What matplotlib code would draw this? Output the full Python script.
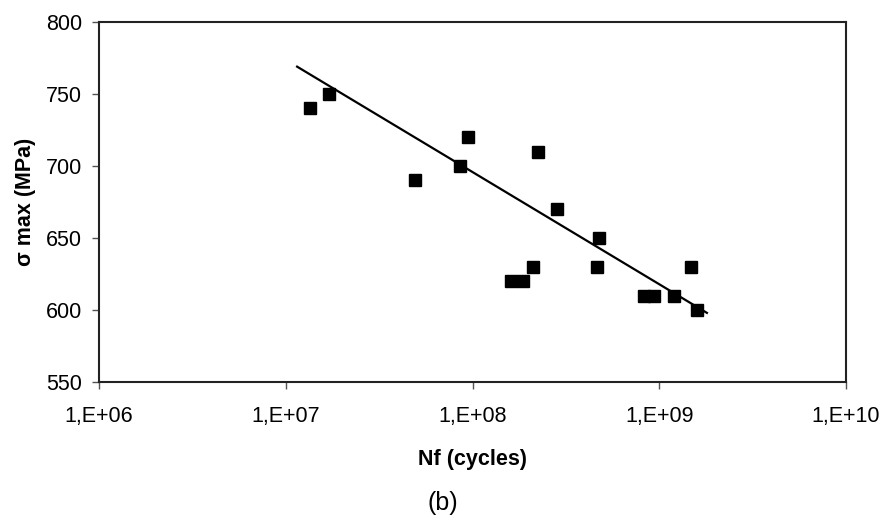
import matplotlib.pyplot as plt
from matplotlib.ticker import FixedLocator, NullLocator

plt.rcParams['font.family'] = ['Liberation Sans', 'DejaVu Sans']

# measured points: cycles to failure vs max stress
cycles = [1.35e7, 1.7e7, 4.95e7, 8.6e7, 9.5e7, 1.6e8, 1.87e8, 2.1e8, 2.25e8,
          2.85e8, 4.66e8, 4.78e8, 8.3e8, 9.4e8, 1.2e9, 1.48e9, 1.6e9]
stress = [740, 750, 690, 700, 720, 620, 620, 630, 710,
          670, 630, 650, 610, 610, 610, 630, 600]

# trend line end points
trend_n = [1.15e7, 1.8e9]
trend_s = [769, 598]

x_ticks = [1e6, 1e7, 1e8, 1e9, 1e10]
x_labels = ['1,E+06', '1,E+07', '1,E+08', '1,E+09', '1,E+10']
y_ticks = [550, 600, 650, 700, 750, 800]

fig = plt.figure(figsize=(8.85, 5.19), dpi=100)
ax = fig.add_axes([99 / 885, 1 - 382 / 519, (846 - 99) / 885, (382 - 22) / 519])

ax.plot(trend_n, trend_s, color='black', lw=1.6)
ax.plot(cycles, stress, 's', color='black', ms=9, mec='black')

ax.set_xscale('log')
ax.set_xlim(1e6, 1e10)
ax.set_ylim(550, 800)
ax.xaxis.set_major_locator(FixedLocator(x_ticks))
ax.xaxis.set_minor_locator(NullLocator())
ax.set_xticklabels(x_labels)
ax.set_yticks(y_ticks)
ax.tick_params(axis='both', labelsize=15.5, direction='out', length=5, width=1, color='#555555')
ax.tick_params(axis='x', pad=12)
ax.tick_params(axis='y', pad=7)

for s in ax.spines.values():
    s.set_linewidth(1.5)
    s.set_color('#222222')

ax.set_xlabel('Nf (cycles)', fontsize=15.5, fontweight='bold', labelpad=16)
ax.set_ylabel('σ max (MPa)', fontsize=15.5, fontweight='bold', labelpad=7)

fig.text(0.5, 1 - 503 / 519, '(b)', ha='center', va='center', fontsize=18)

fig.savefig('out.png', dpi=100)
